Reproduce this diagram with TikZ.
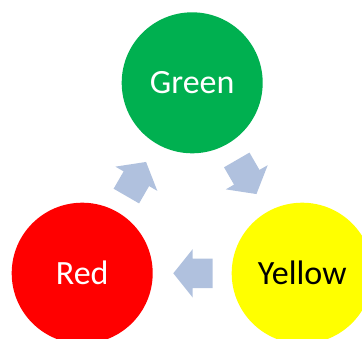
\documentclass[tikz,border=0pt]{standalone}
\usepackage{fontspec}
\setmainfont{Carlito}
\definecolor{cgreen}{RGB}{0,176,80}
\definecolor{cred}{RGB}{255,0,0}
\definecolor{cyellow}{RGB}{255,255,0}
\definecolor{carrow}{RGB}{176,193,222}
\begin{document}
\begin{tikzpicture}[x=1pt,y=-1pt,
  disc/.style={circle,inner sep=0pt,minimum size=141pt,draw=none,
    font=\fontsize{34}{40}\selectfont},
  blockarrow/.pic={\fill[carrow] (19.7,0) -- (0.3,24.2) -- (0.3,14.7) -- (-19.7,14.7)
      -- (-19.7,-14.7) -- (0.3,-14.7) -- (0.3,-24.2) -- cycle;}]
\useasboundingbox (0,0) rectangle (362,338);
\begin{scope}
\clip (0,0) rectangle (362,338);
\node[disc,fill=cgreen,text=white] (green) at (192.2,82.8) {Green};
\node[disc,fill=cred,text=white] (red) at (82.2,273.2) {Red};
\node[disc,fill=cyellow,text=black] (yellow) at (302.2,273.2) {Yellow};
\end{scope}
\pic[rotate=60] (redtogreen) at (136.2,179.0) {blockarrow};
\pic[rotate=-60] (greentoyellow) at (246.6,177.0) {blockarrow};
\pic[rotate=180] (yellowtored) at (193,273.3) {blockarrow};
\end{tikzpicture}
\end{document}
